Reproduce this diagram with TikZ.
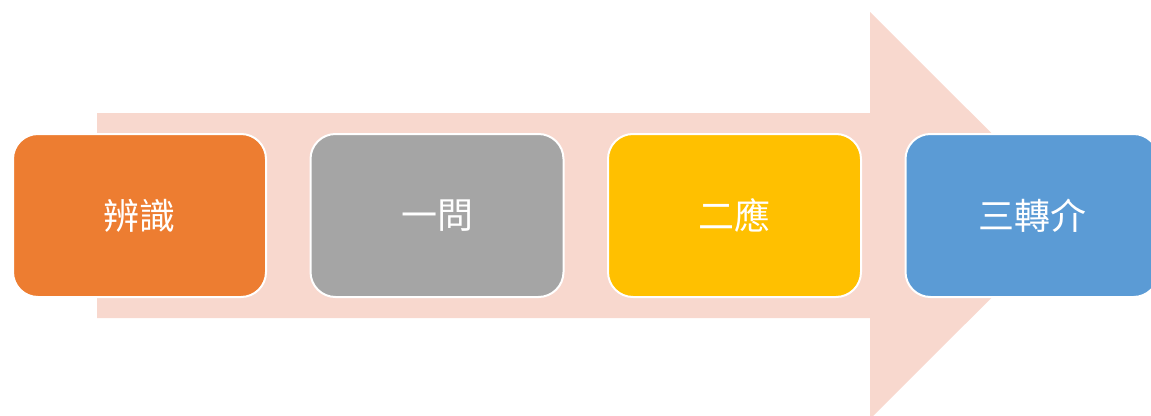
\documentclass[tikz,border=0pt]{standalone}
\usepackage{fontspec}
\newfontfamily\cjk{Noto Sans CJK TC}
\definecolor{arrowc}{HTML}{F8D8CE}
\definecolor{c1}{HTML}{ED7D31}
\definecolor{c2}{HTML}{A5A5A5}
\definecolor{c3}{HTML}{FFC000}
\definecolor{c4}{HTML}{5B9BD5}
\tikzset{
  stepbox/.style={draw=white, line width=2pt, rounded corners=25pt, minimum width=253pt, minimum height=163pt, inner sep=0pt, text=white, font=\cjk\fontsize{36}{42}\selectfont}
}
\begin{document}
\begin{tikzpicture}[x=1pt,y=-1pt]
\useasboundingbox (0,0) rectangle (1151,415);
\clip (0,0) rectangle (1151,415);
\fill[arrowc] (97,113) -- (870,113) -- (870,12) -- (1074,215.5) -- (870,419) -- (870,318) -- (97,318) -- cycle;
\node[stepbox, fill=c1] (a) at (139.5,215.5) {辨識};
\node[stepbox, fill=c2] (b) at (437,215.5) {一問};
\node[stepbox, fill=c3] (c) at (734.5,215.5) {二應};
\node[stepbox, fill=c4] (d) at (1032,215.5) {三轉介};
\end{tikzpicture}
\end{document}
